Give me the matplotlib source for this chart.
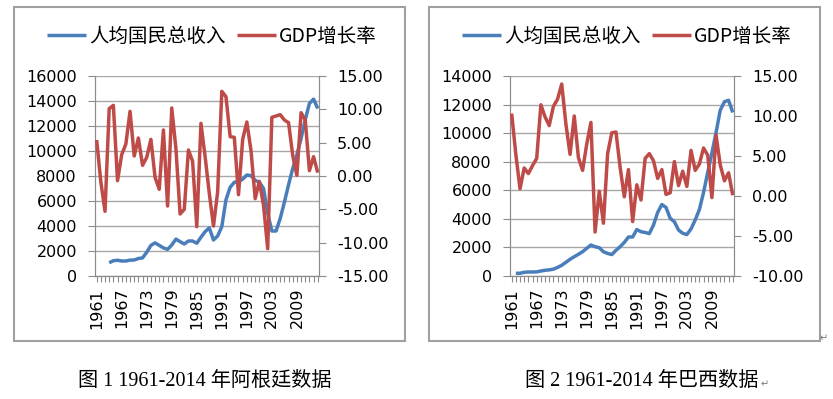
import numpy as np
import matplotlib
matplotlib.use("Agg")
from matplotlib import pyplot as plt
from matplotlib.patches import Rectangle

plt.rcParams['axes.unicode_minus'] = False
plt.rcParams['font.family'] = ['DejaVu Sans', 'Noto Sans CJK SC']

years = np.arange(1961, 2015)
nan = np.nan

# Argentina
arg_gni = [nan, nan, nan, 1060, 1220, 1260, 1200, 1200, 1270, 1280,
           1400, 1450, 1900, 2450, 2650, 2450, 2250, 2130, 2480, 2950,
           2750, 2560, 2800, 2800, 2620, 3100, 3550, 3850, 2880, 3200,
           3950, 6100, 7100, 7500, 7550, 7750, 8080, 8030, 7650, 7500,
           7000, 5000, 3600, 3600, 4600, 5900, 7300, 8600, 9700, 11000,
           12500, 13800, 14150, 13400]
arg_gdp = [5.4, -0.9, -5.3, 10.1, 10.6, -0.7, 3.2, 4.8, 9.7, 3.0,
           5.7, 1.6, 2.8, 5.5, -0.2, -2.0, 6.9, -4.5, 10.2, 4.1,
           -5.7, -5.0, 3.9, 2.2, -7.6, 7.9, 2.9, -2.6, -7.5, -2.4,
           12.7, 11.9, 5.9, 5.8, -2.8, 5.5, 8.1, 3.8, -3.4, -0.8,
           -4.4, -10.9, 8.8, 9.0, 9.2, 8.4, 8.0, 3.1, 0.1, 9.5,
           8.4, 0.8, 2.9, 0.5]

# Brazil
bra_gni = [nan, 190, 190, 260, 280, 280, 290, 350, 400, 430,
           480, 600, 750, 960, 1170, 1350, 1520, 1700, 1940, 2170,
           2050, 1980, 1700, 1580, 1500, 1800, 2050, 2350, 2730, 2730,
           3250, 3100, 3050, 2970, 3570, 4450, 5000, 4800, 4040, 3800,
           3220, 2990, 2900, 3300, 3920, 4650, 5850, 7250, 8600, 10050,
           11600, 12200, 12300, 11450]
bra_gdp = [10.3, 5.2, 0.9, 3.5, 2.8, 3.8, 4.7, 11.4, 9.9, 8.8,
           11.2, 12.1, 14.0, 9.0, 5.2, 10.0, 4.8, 3.2, 6.5, 9.2,
           -4.5, 0.6, -3.4, 5.3, 7.9, 8.0, 3.6, -0.1, 3.3, -3.2,
           1.4, -0.5, 4.7, 5.3, 4.4, 2.2, 3.3, 0.2, 0.4, 4.3,
           1.3, 3.1, 1.2, 5.7, 3.2, 4.0, 6.0, 5.1, -0.2, 7.6,
           3.9, 1.9, 2.9, 0.1]

label_gni = '人均国民总收入'
label_gdp = 'GDP增长率'
captions = ['图 1 1961-2014 年阿根廷数据', '图 2 1961-2014 年巴西数据']

BLUE = '#4A7EBB'
RED = '#BE4B48'

W, H = 833, 399
fig = plt.figure(figsize=(W / 100, H / 100), dpi=100)


def draw_chart(shift, gni, gdp, left_max, right_lim, caption, cap_x):
    # outer frame of the chart
    fig.add_artist(Rectangle(((14 + shift) / W, 1 - 341 / H), 391 / W, 334 / H,
                             transform=fig.transFigure, fill=False,
                             edgecolor='#A0A0A0', lw=1.5))

    x0, x1, ytop, ybot = 95 + shift, 319 + shift, 76, 276
    ax = fig.add_axes([x0 / W, 1 - ybot / H, (x1 - x0) / W, (ybot - ytop) / H])
    ax2 = ax.twinx()

    l1, = ax.plot(years, gni, color=BLUE, lw=2.5, solid_capstyle='butt', zorder=3)
    l2, = ax2.plot(years, gdp, color=RED, lw=2.5, solid_capstyle='butt', zorder=3)

    ax.set_xlim(1960.6, 2014.3)
    ax.set_ylim(0, left_max)
    ax.set_yticks(np.arange(0, left_max + 1, 2000))
    ax2.set_ylim(*right_lim)
    ax2.set_yticks(np.arange(right_lim[0], right_lim[1] + 1, 5))
    ax2.set_yticklabels(['%.2f' % v for v in ax2.get_yticks()])

    ax.set_xticks(years)
    ax.set_xticklabels([str(y) if (y - 1961) % 6 == 0 else '' for y in years],
                       rotation=90)

    ax.yaxis.grid(True, color='#A8A8A8', lw=1)
    ax.set_axisbelow(True)

    for a in (ax, ax2):
        a.spines['top'].set_visible(False)
        for s in ('left', 'right', 'bottom'):
            a.spines[s].set_color('#8C8C8C')
        a.tick_params(colors='#8C8C8C', labelcolor='black', labelsize=11.5)
    ax.tick_params(axis='y', length=5, pad=8)
    ax2.tick_params(axis='y', length=5, pad=8)
    ax.tick_params(axis='x', length=4.5, pad=4)

    ax.legend([l1, l2], [label_gni, label_gdp], loc='center',
              bbox_to_anchor=((212 + shift) / W, 1 - 36 / H),
              bbox_transform=fig.transFigure, ncol=2, frameon=False,
              prop={'family': 'Noto Sans CJK SC', 'size': 14},
              handlelength=2.0, handletextpad=0.15, columnspacing=0.6,
              borderpad=0, borderaxespad=0)

    fig.text(cap_x / W, 1 - 381 / H, caption, ha='center', va='center',
             fontsize=14.5, family=['Liberation Serif', 'Noto Sans CJK SC'])


draw_chart(0, arg_gni, arg_gdp, 16000, (-15, 15), captions[0], 205)
draw_chart(415, bra_gni, bra_gdp, 14000, (-10, 15), captions[1], 642)

# Word paragraph marks
fig.text(761 / W, 1 - 384 / H, '↵', fontsize=7, color='#777777',
         ha='left', va='center')
fig.text(820 / W, 1 - 338 / H, '↵', fontsize=7, color='#777777',
         ha='left', va='center')

fig.savefig('out.png', dpi=100)
